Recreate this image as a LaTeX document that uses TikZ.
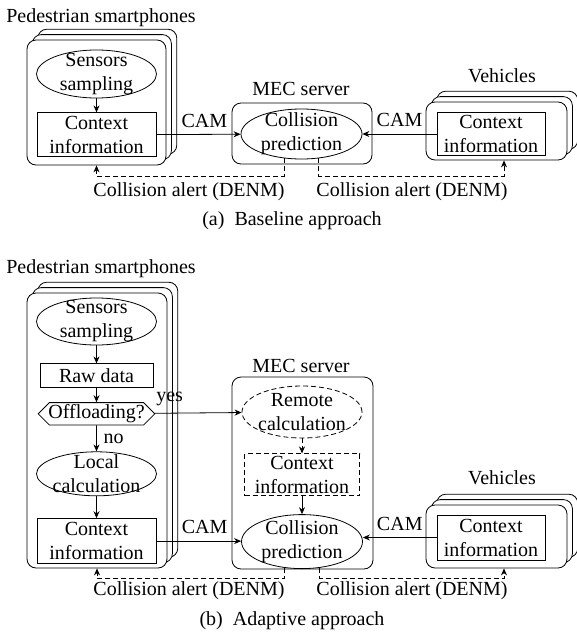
\documentclass[tikz,border=0pt]{standalone}
\usepackage{fontspec}
\setmainfont{Liberation Serif}
\usetikzlibrary{shapes,shapes.symbols,shadows,arrows.meta,positioning}
\tikzset{
    -{Stealth[length=3.5pt,width=3pt]},line width=0.5pt,
    box/.style={draw, fill=white, rounded corners=4.5pt},
    stack/.style={box, double copy shadow={shadow xshift=2.7pt, shadow yshift=2.7pt}},
    proc/.style={ellipse, draw, fill=white, inner sep=-8pt, minimum width=60pt, minimum height=24pt, align=center},
    info/.style={rectangle, draw, fill=white, inner sep=0pt, minimum width=59.5pt, minimum height=22pt, align=center},
    hexa/.style={signal, signal to=east and west, signal pointer angle=90, draw, fill=white, inner xsep=-0.5pt, inner ysep=1pt, minimum height=11pt},
    alert/.style={dash pattern=on 2.5pt off 1.5pt},
    txt/.style={inner sep=0pt}
}

\begin{document}
\begin{tikzpicture}[x=0.5pt,y=-0.5pt]
    \useasboundingbox (0,0) rectangle (577,637);

    % Baseline approach
    \node[stack, minimum width=69.5pt, minimum height=62.5pt] (pedA) at (96.5,102.5) {};
    \node[txt] (lblPedA) at (101,18) {Pedestrian smartphones};
    \node[proc] (ssA) at (96.5,74) {Sensors\\sampling};
    \node[info] (ciA) [below=7pt of ssA] {Context\\information};

    \node[box, minimum width=70pt, minimum height=30.5pt] (mecA) at (302,133.5) {};
    \node[txt] (lblMecA) at (301,88.5) {MEC server};
    \node[proc, minimum width=60.5pt, minimum height=25pt] (cpA) at (301.5,134) {Collision\\prediction};

    \node[stack, minimum width=70.5pt, minimum height=29pt] (vehA) at (496.5,131) {};
    \node[txt] (lblVehA) at (502,75.5) {Vehicles};
    \node[info, minimum width=54pt, minimum height=21.5pt] (cvA) at (491,134) {Context\\information};

    \coordinate (dlA) at (96.5,176);
    \coordinate (drA) at (504,176);
    \node[txt] (alA) at (189,192) {Collision alert (DENM)};
    \node[txt] (arA) at (412,192) {Collision alert (DENM)};
    \node[txt] (capA) at (292,220.5) {(a)\enspace Baseline approach};

    % Directed edge
    \path (ssA) edge (ciA);
    \path (ciA) edge node[above, pos=0.57] {CAM} (cpA);
    \path (cvA) edge node[above] {CAM} (cpA);
    \draw[alert] (cpA.235) |- (dlA) -- (pedA.south);
    \draw[alert] (cpA.305) |- (drA) -- (drA |- vehA.south);

    % Adaptive approach
    \node[stack, minimum width=70pt, minimum height=137.5pt] (pedB) at (97,430.5) {};
    \node[txt] (lblPedB) at (101,268.5) {Pedestrian smartphones};
    \node[proc, minimum height=23.5pt] (ssB) at (96.5,321.5) {Sensors\\sampling};
    \node[info, minimum width=56.5pt, minimum height=12pt] (rdB) [below=9pt of ssB] {Raw data};
    \node[hexa] (olB) [below=7pt of rdB] {Offloading?};
    \node[proc, minimum height=22pt] (lcB) [below=13pt of olB] {Local\\calculation};
    \node[info, minimum height=22.5pt] (ciB) [below=11pt of lcB] {Context\\information};

    \node[box, minimum width=70.5pt, minimum height=96pt] (mecB) at (302.5,473) {};
    \node[txt] (lblMecB) at (301,365.5) {MEC server};
    \node[proc, alert, minimum height=26pt] (rcB) at (302,412) {Remote\\calculation};
    \node[info, alert, minimum width=57.5pt, minimum height=21pt] (dciB) [below=7.5pt of rcB] {Context\\information};
    \node[proc, minimum width=60.5pt, minimum height=27pt] (cpB) [below=9pt of dciB] {Collision\\prediction};

    \node[stack, minimum width=70.5pt, minimum height=31.5pt] (vehB) at (496.5,536.5) {};
    \node[txt] (lblVehB) at (502,477.5) {Vehicles};
    \node[info, minimum width=54pt, minimum height=22.5pt] (cvB) at (491,537.5) {Context\\information};

    \coordinate (dlB) at (97,578);
    \coordinate (drB) at (504,578);
    \node[txt] (alB) at (189,591) {Collision alert (DENM)};
    \node[txt] (arB) at (412,591) {Collision alert (DENM)};
    \node[txt] (capB) at (292,620.5) {(b)\enspace Adaptive approach};

    % Directed edge
    \path (ssB) edge (rdB);
    \path (rdB) edge (olB);
    \path (olB) edge node[right] {no} (lcB);
    \path (lcB) edge (ciB);
    \path (olB) edge node[above, pos=0.17] {yes} (rcB);
    \path[alert] (rcB) edge (dciB);
    \path (dciB) edge (cpB);
    \draw (ciB.east) -- node[above, pos=0.57] {CAM} (ciB.east -| cpB.west);
    \draw (cvB.west) -- node[above] {CAM} (cvB.west -| cpB.east);
    \draw[alert] (cpB.236) |- (dlB) -- (pedB.south);
    \draw[alert] (cpB.304) |- (drB) -- (drB |- vehB.south);
\end{tikzpicture}
\end{document}
